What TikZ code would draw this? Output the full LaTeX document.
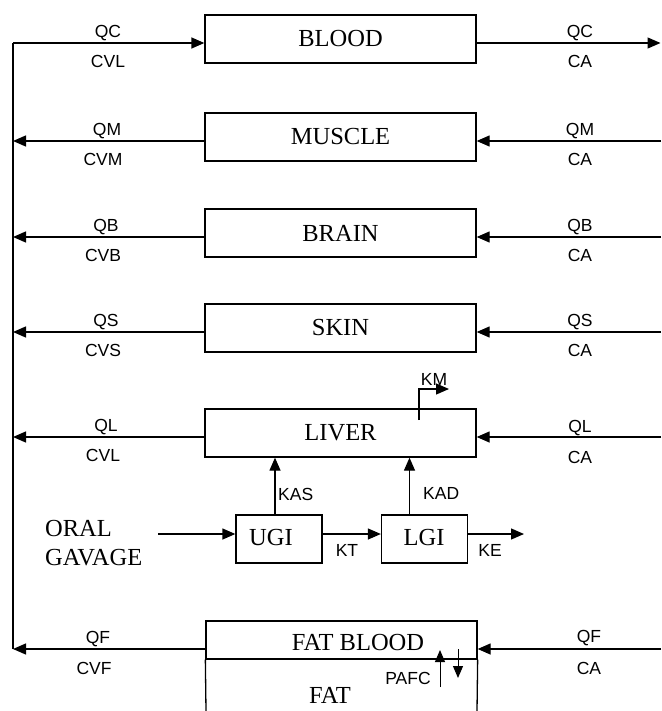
\documentclass[tikz,border=0pt]{standalone}
\usepackage{fontspec}
\setmainfont{Liberation Serif}
\newfontfamily\lblfont{Liberation Sans}
\usetikzlibrary{arrows.meta}
\tikzset{
  box/.style={draw, line width=1.3pt, inner sep=0pt, minimum width=271pt, minimum height=48pt,
              font=\fontsize{24.5}{26}\selectfont},
  gibox/.style={draw, line width=1.3pt, inner sep=0pt, minimum width=86pt, minimum height=48pt,
              font=\fontsize{24.5}{26}\selectfont},
  lbl/.style={inner sep=0pt, font=\lblfont\fontsize{17.5}{19}\selectfont},
  big/.style={inner sep=0pt, font=\fontsize{24.5}{29}\selectfont},
  conn/.style={line width=1.3pt},
  arr/.style={line width=1.3pt, -{Triangle[length=13pt,width=11pt]}},
}
\begin{document}
\begin{tikzpicture}[x=1pt,y=-1pt]
\useasboundingbox (0,0) rectangle (661,711);

% boxes
\node[box] (blood)  at (340.5,39)  {BLOOD};
\node[box] (muscle) at (340.5,137) {MUSCLE};
\node[box] (brain)  at (340.5,233) {BRAIN};
\node[box] (skin)   at (340.5,328) {SKIN};
\node[box] (liver)  at (340.5,433) {LIVER};
\node[gibox] (ugi) at (279,539) {};
\node[big] (ugit) at (271,538) {UGI};
\node[gibox] (lgi) at (424.5,539) {};
\node[big] (lgit) at (424,538) {LGI};
\node[big, align=left, anchor=west] (oral) at (45,543) {ORAL\\GAVAGE};

% fat compartment
\node[draw, line width=1.3pt, inner sep=0pt, minimum width=271pt, minimum height=38pt] (fatblood) at (341.5,640) {};
\draw[conn] (fatblood.south west) -- (206,711);
\draw[conn] (fatblood.south east) -- (477,711);
\node[big] (fatbloodt) at (358,643) {FAT BLOOD};
\node[big] (fatt) at (330,695) {FAT};

% spine and row coordinates
\coordinate (Lc) at (13,43);
\coordinate (Lm) at (13,141);
\coordinate (Lb) at (13,237);
\coordinate (Ls) at (13,332);
\coordinate (Ll) at (13,437);
\coordinate (Lf) at (13,649);
\coordinate (Rc) at (660.5,43);
\coordinate (Rm) at (661,141);
\coordinate (Rb) at (661,237);
\coordinate (Rs) at (661,332);
\coordinate (Rl) at (661,437);
\coordinate (Rf) at (661,649);

\draw[conn] (Lf) -- (Lc);
\draw[arr] (Lc) -- (blood.west |- Lc);
\draw[arr] (blood.east |- Rc) -- (Rc);
\foreach \b/\r in {muscle/m, brain/b, skin/s, liver/l, fatblood/f}{
  \draw[arr] (\b.west |- L\r) -- (L\r);
  \draw[arr] (R\r) -- (\b.east |- R\r);
}

% flow labels
\node[lbl] (qc1) at (108,33) {QC};
\node[lbl] (cv1) at (108,61) {CVL};
\node[lbl] (qc2) at (580,33) {QC};
\node[lbl] (ca1) at (580,61) {CA};
\node[lbl] (qm1) at (107,131) {QM};
\node[lbl] (cv2) at (103,159) {CVM};
\node[lbl] (qm2) at (580,131) {QM};
\node[lbl] (ca2) at (580,159) {CA};
\node[lbl] (qb1) at (106,227) {QB};
\node[lbl] (cv3) at (103,255) {CVB};
\node[lbl] (qb2) at (580,227) {QB};
\node[lbl] (ca3) at (580,255) {CA};
\node[lbl] (qs1) at (106,322) {QS};
\node[lbl] (cv4) at (103,350) {CVS};
\node[lbl] (qs2) at (580,322) {QS};
\node[lbl] (ca4) at (580,350) {CA};
\node[lbl] (ql1) at (106,427) {QL};
\node[lbl] (cv5) at (103,455) {CVL};
\node[lbl] (ql2) at (580,428) {QL};
\node[lbl] (ca5) at (580,457) {CA};
\node[lbl] (qf1) at (98,639) {QF};
\node[lbl] (cv6) at (94,668) {CVF};
\node[lbl] (qf2) at (589,638) {QF};
\node[lbl] (ca6) at (589,668) {CA};

% GI tract
\coordinate (oralend) at (158,534);
\draw[arr] (oralend) -- (ugi.west |- oralend);
\draw[arr] (ugi.east |- oralend) -- (lgi.west |- oralend);
\coordinate (keend) at (524,534);
\draw[arr] (lgi.east |- keend) -- (keend);
\coordinate (kasx) at (275,0);
\coordinate (kadx) at (409.5,0);
\draw[arr] (ugi.north -| kasx) -- (liver.south -| kasx);
\draw[arr] (lgi.north -| kadx) -- (liver.south -| kadx);
\node[lbl, anchor=west] (kas) at (278,494) {KAS};
\node[lbl, anchor=west] (kad) at (423,493) {KAD};
\node[lbl] (kt) at (347,550) {KT};
\node[lbl] (ke) at (490,550) {KE};

% metabolism
\coordinate (kmstart) at (419,420);
\coordinate (kmcorner) at (419,389);
\coordinate (kmend) at (449,389);
\draw[arr] (kmstart) -- (kmcorner) -- (kmend);
\node[lbl] (km) at (434,379) {KM};

% PAFC exchange
\coordinate (pu1) at (440,687);
\coordinate (pu2) at (440,650);
\coordinate (pd1) at (458,649);
\coordinate (pd2) at (458,678);
\draw[line width=1pt, -{Triangle[length=12pt,width=10pt]}] (pu1) -- (pu2);
\draw[line width=1pt, -{Triangle[length=12pt,width=10pt]}] (pd1) -- (pd2);
\node[lbl] (pafc) at (408,678) {PAFC};
\end{tikzpicture}
\end{document}
